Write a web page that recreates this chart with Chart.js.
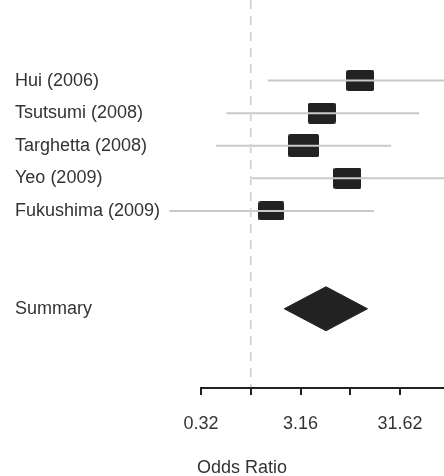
<!DOCTYPE html>
<html>
<head>
<meta charset="utf-8">
<script src="https://cdn.jsdelivr.net/npm/chart.js@4"></script>
<style>
html,body{margin:0;padding:0;background:#fff}
canvas{display:block}
</style>
</head>
<body>
<canvas id="forest" width="444" height="476"></canvas>
<script>

const studies=[
"Hui (2006)","Tsutsumi (2008)","Targhetta (2008)","Yeo (2009)","Fukushima (2009)"
]

const oddsRatio=[12.6,5.17,3.40,9.37,1.61]
const ciLower=[1.48,0.568,0.447,1.035,0.152]
const ciUpper=[150,49.3,25.8,120,17.3]
const weights=[19.7,19.7,23.9,19.7,16.9]

const summaryLabel="Summary"
const summaryOR=5.70
const summaryLower=2.17
const summaryUpper=14.9

const tickValues=[0.3162,1,3.162,10,31.62]
const tickLabels=["0.32","","3.16","","31.62"]

const axisTitle="Odds Ratio"

// layout
const FONT='"Liberation Sans", Arial, sans-serif'
const TXT="#333333"
const INK="#222222"
const yMin=-2.47, yMax=9.43
const summaryRow=studies.length+2

Chart.defaults.font.family=FONT
Chart.defaults.font.size=18
Chart.defaults.color=TXT

function makeBox(w){
let side=Math.sqrt(w)*6.3
let bw=Math.round(side), bh=Math.round(side*0.75)
let c=document.createElement("canvas")
c.width=bw
c.height=bh
let g=c.getContext("2d")
g.fillStyle=INK
g.beginPath()
g.roundRect(0,0,bw,bh,2)
g.fill()
return c
}

let boxes=weights.map(makeBox)

let datasets=[]

// null line
datasets.push({
data:[{x:1,y:yMin},{x:1,y:yMax}],
showLine:true,
borderColor:"#d6d6d6",
borderWidth:2,
borderDash:[9,7],
pointRadius:0
})

// confidence intervals
studies.forEach((s,i)=>{
datasets.push({
data:[{x:ciLower[i],y:i},{x:ciUpper[i],y:i}],
showLine:true,
borderColor:"#c9c9c9",
borderWidth:2,
pointRadius:0
})
})

// study boxes
datasets.push({
data:oddsRatio.map((v,i)=>({x:v,y:i})),
pointStyle:ctx=>boxes[ctx.dataIndex],
pointRadius:10
})

// summary diamond
let dh=0.675
datasets.push({
data:[
{x:summaryLower,y:summaryRow},
{x:summaryOR,y:summaryRow-dh},
{x:summaryUpper,y:summaryRow},
{x:summaryOR,y:summaryRow+dh},
{x:summaryLower,y:summaryRow}
],
showLine:true,
fill:"shape",
backgroundColor:INK,
borderColor:INK,
borderWidth:1,
pointRadius:0
})

const rowLabels=studies.concat([summaryLabel])
const rowValues=studies.map((s,i)=>i).concat([summaryRow])

const axisLine={
id:"axisLine",
afterDraw(chart){
let ctx=chart.ctx
let x=chart.scales.x
let a=chart.chartArea
ctx.save()
ctx.strokeStyle=INK
ctx.lineWidth=2
ctx.beginPath()
ctx.moveTo(x.getPixelForValue(tickValues[0])-1,a.bottom)
ctx.lineTo(a.right,a.bottom)
ctx.stroke()
ctx.fillStyle=TXT
ctx.font="18px "+FONT
ctx.textAlign="center"
ctx.textBaseline="middle"
ctx.fillText(axisTitle,242,468)
ctx.restore()
}
}

new Chart(document.getElementById("forest"),{

type:"scatter",

data:{datasets:datasets},

options:{
responsive:false,
devicePixelRatio:1,
animation:false,
events:[],
layout:{autoPadding:false,padding:{left:15,right:0,top:0,bottom:0}},
plugins:{
legend:{display:false},
tooltip:{enabled:false}
},
scales:{
x:{
type:"logarithmic",
min:0.1374,
max:87.5,
bounds:"data",
afterBuildTicks:s=>{s.ticks=tickValues.map(v=>({value:v}))},
afterFit:s=>{s.height=88;s.paddingLeft=0;s.paddingRight=0},
grid:{
display:true,
drawOnChartArea:false,
drawTicks:true,
tickLength:7,
color:INK,
lineWidth:2
},
border:{display:false},
ticks:{
color:TXT,
padding:18,
maxRotation:0,
autoSkip:false,
callback:(v,i)=>tickLabels[i]
}
},
y:{
type:"linear",
reverse:true,
min:yMin,
max:yMax,
afterBuildTicks:s=>{s.ticks=rowValues.map(v=>({value:v}))},
afterFit:s=>{s.width=150;s.paddingTop=0;s.paddingBottom=0},
grid:{display:false},
border:{display:false},
ticks:{
color:TXT,
crossAlign:"far",
autoSkip:false,
callback:(v,i)=>rowLabels[i]
}
}
}
},

plugins:[axisLine]

})

</script>
</body>
</html>
